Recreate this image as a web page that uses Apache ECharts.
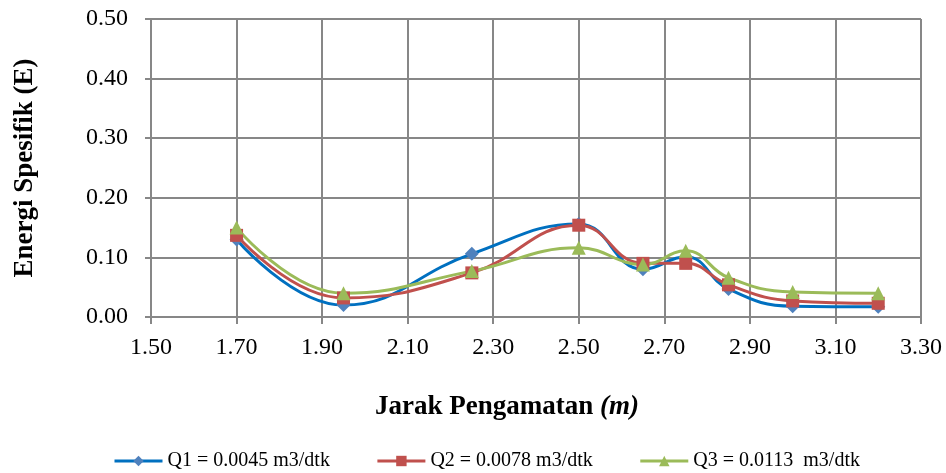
<!DOCTYPE html>
<html>
<head>
<meta charset="utf-8">
<script src="https://cdn.jsdelivr.net/npm/echarts@6/dist/echarts.min.js"></script>
<style>
  html, body { margin: 0; padding: 0; background: #fff; }
  #chart { width: 946px; height: 473px; }
</style>
</head>
<body>
<div id="chart"></div>
<script>
// jarak pengamatan (m)
const jarak = [1.70, 1.95, 2.25, 2.50, 2.65, 2.75, 2.85, 3.00, 3.20]
// energi spesifik tiap debit
const q1 = [0.130, 0.020, 0.106, 0.156, 0.080, 0.101, 0.047, 0.018, 0.017]
const q2 = [0.137, 0.032, 0.074, 0.154, 0.090, 0.090, 0.054, 0.027, 0.023]
const q3 = [0.150, 0.040, 0.077, 0.116, 0.088, 0.111, 0.066, 0.042, 0.040]
const seriesNames = ['Q1 = 0.0045 m3/dtk', 'Q2 = 0.0078 m3/dtk', 'Q3 = 0.0113  m3/dtk']

const font = 'Liberation Serif'
const gridColor = '#878787'

const pairs = (ys) => jarak.map((x, i) => [x, ys[i]])

const chart = echarts.init(document.getElementById('chart'))

const makeSeries = (name, data, lineColor, markColor, symbol, size) => ({
  name,
  type: 'line',
  data: pairs(data),
  smooth: 0.45,
  symbol,
  symbolSize: size,
  lineStyle: { color: lineColor, width: 3 },
  itemStyle: { color: markColor },
  emphasis: { disabled: true }
})

chart.setOption({
  animation: false,
  textStyle: { fontFamily: font },
  title: {
    text: '{b|Jarak Pengamatan }{i|(m)}',
    left: 502,
    top: 389,
    textAlign: 'center',
    textStyle: {
      rich: {
        b: { fontFamily: font, fontWeight: 'bold', fontSize: 27, color: '#000' },
        i: { fontFamily: font, fontWeight: 'bold', fontStyle: 'italic', fontSize: 27, color: '#000' }
      }
    }
  },
  legend: {
    top: 446,
    left: 108,
    itemWidth: 48,
    itemHeight: 13,
    itemGap: 46,
    lineStyle: { width: 3 },
    textStyle: { fontFamily: font, fontSize: 20, color: '#000' },
    data: seriesNames
  },
  grid: { left: 151, right: 25, top: 19, bottom: 156, containLabel: false },
  xAxis: {
    type: 'value',
    min: 1.5,
    max: 3.3,
    interval: 0.2,
    axisLine: { show: true, lineStyle: { color: gridColor, width: 2 } },
    axisTick: { show: true, length: 7, lineStyle: { color: gridColor, width: 2 } },
    axisLabel: {
      fontFamily: font, fontSize: 24, color: '#000', margin: 19,
      formatter: (v) => v.toFixed(2)
    },
    splitLine: { show: true, lineStyle: { color: gridColor, width: 2 } }
  },
  yAxis: {
    type: 'value',
    min: 0,
    max: 0.5,
    interval: 0.1,
    name: 'Energi Spesifik (E)',
    nameLocation: 'middle',
    nameGap: 112,
    nameTextStyle: { fontFamily: font, fontWeight: 'bold', fontSize: 27, color: '#000' },
    axisLine: { show: true, lineStyle: { color: gridColor, width: 2 } },
    axisTick: { show: true, length: 6, lineStyle: { color: gridColor, width: 2 } },
    axisLabel: {
      fontFamily: font, fontSize: 24, color: '#000', margin: 23,
      formatter: (v) => v.toFixed(2)
    },
    splitLine: { show: true, lineStyle: { color: gridColor, width: 2 } }
  },
  series: [
    makeSeries(seriesNames[0], q1, '#0070C0', '#4F81BD', 'diamond', 14),
    makeSeries(seriesNames[1], q2, '#C0504D', '#C0504D', 'rect', 13),
    makeSeries(seriesNames[2], q3, '#9BBB59', '#9BBB59', 'triangle', 14)
  ]
})
</script>
</body>
</html>
